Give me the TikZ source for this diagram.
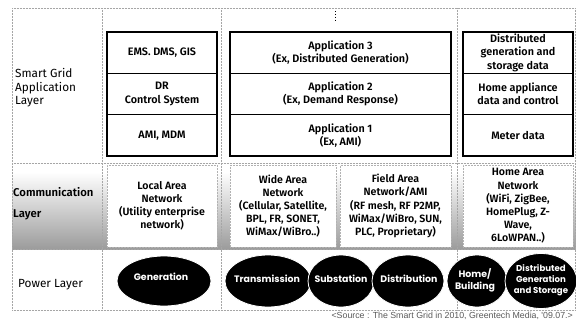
\documentclass[tikz,border=0pt]{standalone}
\usepackage{fontspec}
\setmainfont{Fira Sans}[BoldFont={Fira Sans SemiBold}]
\newfontfamily\pfont{Poppins}
\newfontfamily\srcfont{Liberation Sans}
\usetikzlibrary{shapes.geometric}
\begin{document}
\begin{tikzpicture}[x=1pt,y=-1pt,
  divline/.style={gray!70,densely dotted,line width=0.5pt},
  appbox/.style={draw=black,line width=1.1pt,minimum height=41.33pt,inner sep=0pt,align=center,
    font=\fontsize{10.8}{13.2}\selectfont\bfseries},
  combox/.style={draw=gray!60,densely dotted,fill=white,line width=0.5pt,minimum height=82pt,inner sep=0pt,align=center,
    font=\fontsize{10.6}{13.2}\selectfont\bfseries},
  pwr/.style={ellipse,fill=black,draw=white,line width=0.8pt,inner sep=0pt},
  pwrtext/.style={inner sep=0pt,align=center,text=white,
    font=\pfont\fontsize{9.4}{12}\selectfont\bfseries},
  layerlbl/.style={anchor=west,align=left,inner sep=0pt}
]
\useasboundingbox (0,0) rectangle (576,324);
% texture band of the communication layer
\shade[top color=white,bottom color=gray!78] (12,172) rectangle (576,249);
% dotted frame
\draw[divline] (12,8) -- (576,8);
\draw[divline] (12,163) -- (576,163);
\draw[divline] (12,249) -- (576,249);
\draw[divline] (12,310) -- (576,310);
\draw[divline] (12,8) -- (12,310);
\draw[divline] (102,8) -- (102,310);
\draw[divline] (221,8) -- (221,310);
\draw[divline] (457,8) -- (457,310);
\draw[divline] (575,8) -- (575,310);
\draw[black,dotted,line width=0.9pt] (335,11) -- (335,22);
% layer labels
\node[layerlbl,font=\fontsize{11.8}{13.6}\selectfont] (lapp) at (15,88) {Smart Grid\\Application\\Layer};
\node[layerlbl,font=\fontsize{11.3}{21}\selectfont\bfseries] (lcom) at (13,204) {Communication\\Layer};
\node[layerlbl,font=\fontsize{11.8}{13}\selectfont] (lpow) at (18,285) {Power Layer};
% application layer
\node[appbox,minimum width=110pt] (c1r3) at (162,52.67) {EMS. DMS, GIS};
\node[appbox,minimum width=110pt] (c1r2) at (162,94) {DR\\Control System};
\node[appbox,minimum width=110pt] (c1r1) at (162,135.33) {AMI, MDM};
\node[appbox,minimum width=221pt] (c2r3) at (340.5,52.67) {Application 3\\(Ex, Distributed Generation)};
\node[appbox,minimum width=221pt] (c2r2) at (340.5,94) {Application 2\\(Ex, Demand Response)};
\node[appbox,minimum width=221pt] (c2r1) at (340.5,135.33) {Application 1\\(Ex, AMI)};
\node[appbox,minimum width=110pt] (c3r3) at (518,52.67) {Distributed\\generation and\\storage data};
\node[appbox,minimum width=110pt] (c3r2) at (518,94) {Home appliance\\data and control};
\node[appbox,minimum width=110pt] (c3r1) at (518,135.33) {Meter data};
% communication layer
\node[combox,minimum width=110pt] (lan) at (162,206) {Local Area\\Network\\(Utility enterprise\\network)};
\node[combox,minimum width=106pt] (wan) at (283,206) {Wide Area\\Network\\(Cellular, Satellite,\\BPL, FR, SONET,\\WiMax/WiBro..)};
\node[combox,minimum width=111pt] (fan) at (395.5,206) {Field Area\\Network/AMI\\(RF mesh, RF P2MP,\\WiMax/WiBro, SUN,\\PLC, Proprietary)};
\node[combox,minimum width=110pt] (han) at (518,206) {Home Area\\Network\\(WiFi, ZigBee,\\HomePlug, Z-\\Wave,\\6LoWPAN..)};
% power layer
\node[pwr,minimum width=94pt,minimum height=50pt] (gen) at (164,281) {};
\node[pwr,minimum width=86pt,minimum height=52pt] (tra) at (268,281) {};
\node[pwr,minimum width=66pt,minimum height=52pt] (sub) at (341,281) {};
\node[pwr,minimum width=72pt,minimum height=52pt] (dis) at (408,281) {};
\node[pwr,minimum width=60pt,minimum height=52pt] (home) at (477,281) {};
\node[pwr,minimum width=72pt,minimum height=55pt] (dgs) at (541,281) {};
\node[pwrtext] (gent) at ([xshift=-3pt,yshift=4pt]gen.center) {Generation};
\node[pwrtext] (trat) at ([xshift=-1pt,yshift=2pt]tra.center) {Transmission};
\node[pwrtext] (subt) at ([yshift=2pt]sub.center) {Substation};
\node[pwrtext] (dist) at ([xshift=1pt,yshift=2pt]dis.center) {Distribution};
\node[pwrtext] (homet) at ([xshift=-2pt,yshift=1pt]home.center) {Home/\\Building};
\node[pwrtext,font=\pfont\fontsize{8.6}{10.8}\selectfont\bfseries] (dgst) at ([yshift=1pt]dgs.center) {Distributed\\Generation\\and Storage};
% source
\node[anchor=east,inner sep=0pt,text=gray!70!black,font=\srcfont\fontsize{8.8}{10}\selectfont] (src) at (573,316) {<Source : The Smart Grid in 2010, Greentech Media, '09.07.>};
\end{tikzpicture}
\end{document}
